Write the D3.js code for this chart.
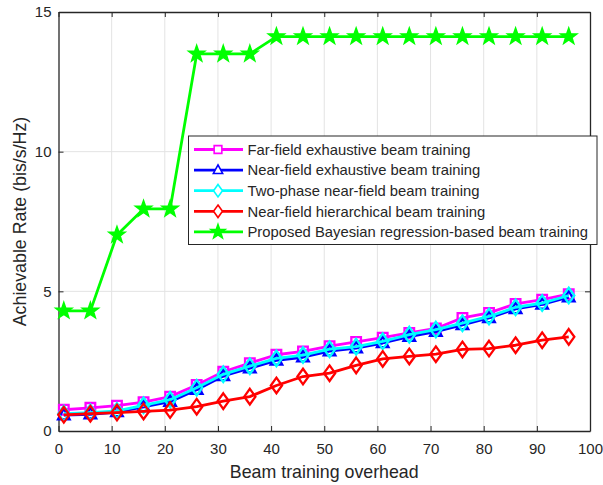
<!DOCTYPE html>
<html><head><meta charset="utf-8">
<script src="https://cdn.jsdelivr.net/npm/d3@7"></script>
<style>body{margin:0;background:#fff}svg{display:block}text{font-family:"Liberation Sans",Arial,sans-serif;fill:#262626}</style>
</head><body><svg id="c" width="603" height="485"></svg>
<script>
const overhead = [1,6,11,16,21,26,31,36,41,46,51,56,61,66,71,76,81,86,91,96];
const farExhaustive = [0.76,0.83,0.91,1.03,1.23,1.65,2.12,2.43,2.73,2.85,3.04,3.19,3.34,3.51,3.67,4.05,4.23,4.55,4.70,4.90];
const nearExhaustive = [0.57,0.60,0.68,0.86,1.05,1.48,1.97,2.25,2.53,2.64,2.86,2.97,3.15,3.38,3.56,3.80,4.05,4.37,4.53,4.79];
const twoPhase = [0.62,0.66,0.72,0.92,1.12,1.55,2.03,2.32,2.60,2.72,2.93,3.02,3.21,3.45,3.63,3.86,4.10,4.43,4.58,4.85];
const hierarchical = [0.58,0.62,0.66,0.70,0.75,0.87,1.07,1.23,1.63,1.95,2.07,2.35,2.58,2.67,2.75,2.92,2.95,3.07,3.25,3.37];
const bayesian = [4.3,4.3,7.02,7.95,7.95,13.5,13.5,13.5,14.12,14.12,14.12,14.12,14.12,14.12,14.12,14.12,14.12,14.12,14.12,14.12];
const seriesNames = ["Far-field exhaustive beam training","Near-field exhaustive beam training","Two-phase near-field beam training","Near-field hierarchical beam training","Proposed Bayesian regression-based beam training"];
const xTicks = [0,10,20,30,40,50,60,70,80,90,100];
const yTicks = [0,5,10,15];
const xLabel = "Beam training overhead";
const yLabel = "Achievable Rate (bis/s/Hz)";

const series = [
  {name:seriesNames[0], values:farExhaustive, color:"#ff00ff", marker:"square"},
  {name:seriesNames[1], values:nearExhaustive, color:"#0000ff", marker:"triangle"},
  {name:seriesNames[2], values:twoPhase, color:"#00ffff", marker:"diamond"},
  {name:seriesNames[3], values:hierarchical, color:"#ff0000", marker:"diamond"},
  {name:seriesNames[4], values:bayesian, color:"#00ff00", marker:"star"}
];

const L=58.5, R=590, T=12, B=431;
const x = d3.scaleLinear().domain([0,100]).range([L,R]);
const y = d3.scaleLinear().domain([0,15]).range([B,T]);
const svg = d3.select("#c");
const axisColor="#262626";

// grid
const g = svg.append("g");
g.selectAll(".gx").data(xTicks.slice(1,-1)).join("line")
  .attr("x1",d=>x(d)).attr("x2",d=>x(d)).attr("y1",T).attr("y2",B)
  .attr("stroke","#e3e3e3").attr("stroke-width",1);
g.selectAll(".gy").data(yTicks.slice(1,-1)).join("line")
  .attr("y1",d=>y(d)).attr("y2",d=>y(d)).attr("x1",L).attr("x2",R)
  .attr("stroke","#e3e3e3").attr("stroke-width",1);

// axes
const xa = svg.append("g").attr("transform",`translate(0,${B})`)
  .call(d3.axisBottom(x).tickValues(xTicks).tickSizeInner(-5).tickSizeOuter(0).tickPadding(12.5));
const xt = svg.append("g").attr("transform",`translate(0,${T})`)
  .call(d3.axisTop(x).tickValues(xTicks).tickSizeInner(-5).tickSizeOuter(0).tickFormat(""));
const ya = svg.append("g").attr("transform",`translate(${L},0)`)
  .call(d3.axisLeft(y).tickValues(yTicks).tickSizeInner(-5).tickSizeOuter(0).tickPadding(7));
const yr = svg.append("g").attr("transform",`translate(${R},0)`)
  .call(d3.axisRight(y).tickValues(yTicks).tickSizeInner(-5).tickSizeOuter(0).tickFormat(""));
[xa,xt,ya,yr].forEach(a=>{
  a.select(".domain").attr("stroke",axisColor).attr("stroke-width",1.3);
  a.selectAll(".tick line").attr("stroke",axisColor).attr("stroke-width",1);
  a.selectAll("text").attr("font-size",15).attr("fill",axisColor).attr("font-family","Liberation Sans, Arial, sans-serif");
});

svg.append("text").attr("x",(L+R)/2).attr("y",477.5).attr("text-anchor","middle")
  .attr("font-size",17.8).text(xLabel);
svg.append("text").attr("transform",`translate(25.5,${(T+B)/2}) rotate(-90)`).attr("text-anchor","middle")
  .attr("font-size",17.8).text(yLabel);

function starPath(ro){
  const ri = ro*0.4; let p="";
  for(let k=0;k<10;k++){
    const r = k%2?ri:ro, a = -Math.PI/2 + k*Math.PI/5;
    p += (k?"L":"M")+(r*Math.cos(a)).toFixed(2)+","+(r*Math.sin(a)).toFixed(2);
  }
  return p+"Z";
}
function markerPath(type){
  if(type==="square") return "M-4.8,-4.8H4.8V4.8H-4.8Z";
  if(type==="triangle") return "M0,-6.5L5.8,4.2L-5.8,4.2Z";
  if(type==="diamond") return "M0,-7.8L5.6,0L0,7.8L-5.6,0Z";
  if(type==="star") return starPath(8.5);
}

const line = d3.line().x((d,i)=>x(overhead[i])).y(d=>y(d));
series.forEach(s=>{
  const sg = svg.append("g");
  sg.append("path").attr("d",line(s.values)).attr("fill","none").attr("stroke",s.color).attr("stroke-width",2.8).attr("stroke-linejoin","round");
  sg.selectAll("path.m").data(s.values).join("path").attr("class","m")
    .attr("transform",(d,i)=>`translate(${x(overhead[i])},${y(d)})`)
    .attr("d",markerPath(s.marker))
    .attr("fill",s.marker==="star"?s.color:"none").attr("stroke",s.color).attr("stroke-width",s.marker==="star"?1.5:2.3).attr("stroke-linejoin","miter");
});

// legend
const lg = svg.append("g");
lg.append("rect").attr("x",188.5).attr("y",136).attr("width",408.5).attr("height",108.5)
  .attr("fill","#fff").attr("stroke",axisColor).attr("stroke-width",1);
series.forEach((s,i)=>{
  const yy = 149.5 + i*20.6;
  lg.append("line").attr("x1",194).attr("x2",243).attr("y1",yy).attr("y2",yy).attr("stroke",s.color).attr("stroke-width",2.8);
  lg.append("path").attr("d",s.marker==="star"?starPath(7.5):markerPath(s.marker)).attr("transform",`translate(218,${yy}) scale(${s.marker==="star"?1:0.8})`)
    .attr("fill",s.marker==="star"?s.color:"#fff").attr("stroke",s.color).attr("stroke-width",s.marker==="star"?1.5:2);
  lg.append("text").attr("x",247.5).attr("y",yy+5.2).attr("font-size",14.8).text(s.name);
});
</script></body></html>
